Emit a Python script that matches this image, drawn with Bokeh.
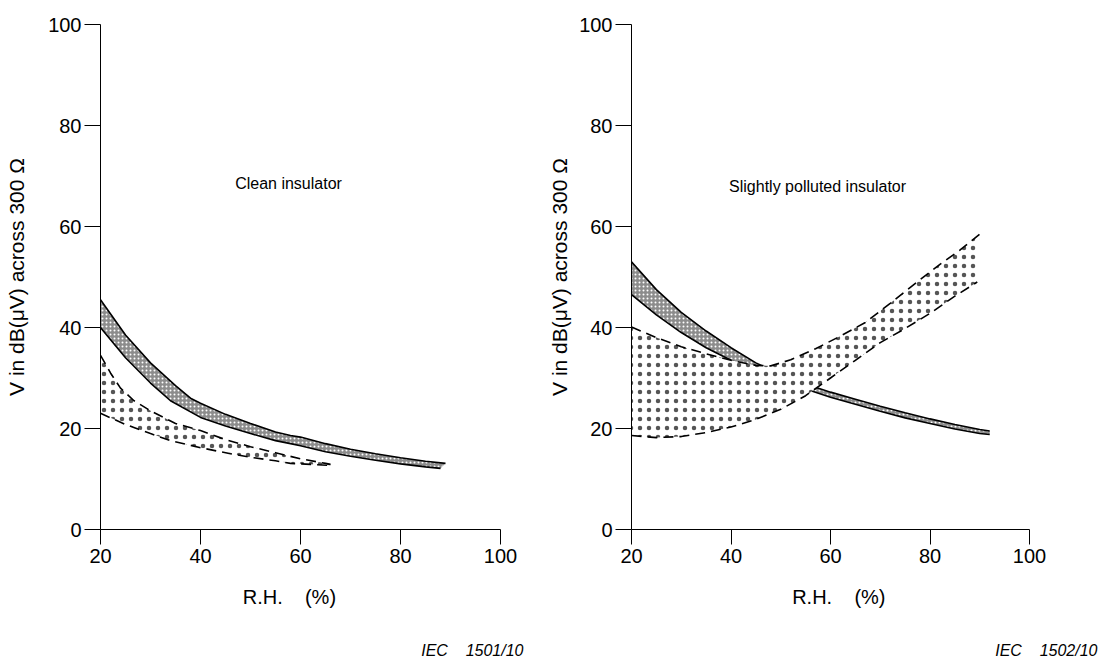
from bokeh.plotting import figure
from bokeh.models import Label, Range1d, FixedTicker, Title
from bokeh.layouts import row
from bokeh.embed import file_html
from bokeh.resources import INLINE

FONT = "Liberation Sans"
NB = "\u00a0"

x_ticks = [20, 40, 60, 80, 100]
y_ticks = [0, 20, 40, 60, 80, 100]
x_label_left = "R.H." + NB * 4 + "(%)" + NB * 4
x_label_right = NB * 3 + "R.H." + NB * 4 + "(%)"
y_label = "V in dB(\u03bcV) across 300 \u03a9"

# ---- Clean insulator ----
clean_title = "Clean insulator"
clean_band_up_x = [20, 25, 30, 35, 38, 40, 45, 50, 55, 58, 60, 65, 70, 75, 80, 85, 89]
clean_band_up_y = [45.5, 38.5, 33, 28.5, 26, 25, 22.8, 21, 19.3, 18.6, 18.3, 17, 15.9, 15, 14.2, 13.5, 13.1]
clean_band_lo_x = [20, 25, 30, 34, 40, 45, 50, 55, 58, 60, 65, 70, 75, 80, 85, 88]
clean_band_lo_y = [40, 34, 29, 25.5, 22.2, 20.5, 19, 17.6, 17, 16.6, 15.4, 14.5, 13.7, 13, 12.4, 12.1]
clean_dash_up_x = [20, 22, 24, 26.7, 30, 35, 40, 45, 50, 55, 60, 65, 66]
clean_dash_up_y = [34.5, 31, 28, 25.5, 23.5, 21, 19.6, 17.8, 16.4, 15.2, 14, 13.1, 12.9]
clean_dash_lo_x = [20, 25, 30, 34, 40, 46, 50, 55, 58, 62, 66]
clean_dash_lo_y = [23, 20.8, 19, 17.6, 16.2, 15, 14.3, 13.6, 13.1, 12.9, 12.7]
clean_iec = "IEC" + NB * 4 + "1501/10"

# ---- Slightly polluted insulator ----
poll_title = "Slightly polluted insulator"
poll_band_up_x = [20, 25, 30, 35, 40, 45, 50, 55, 60, 65, 70, 75, 80, 85, 90, 92]
poll_band_up_y = [53, 47.5, 43, 39.3, 36, 33, 30.7, 28.8, 27.2, 25.8, 24.4, 23.1, 21.9, 20.8, 19.8, 19.5]
poll_band_lo_x = [20, 25, 30, 35, 40, 45, 50, 55, 60, 65, 70, 75, 80, 85, 90, 92]
poll_band_lo_y = [46.5, 42.5, 39, 36, 33.5, 31.3, 29.5, 27.8, 26.2, 24.8, 23.4, 22.1, 21, 19.9, 19, 18.8]
poll_dash_up_x = [20, 25, 30, 35, 40, 45, 48, 52, 57, 62, 67, 72, 77, 82, 86, 90]
poll_dash_up_y = [40.1, 38, 36.2, 34.8, 33.5, 32.5, 32.4, 33.6, 35.8, 38.3, 41, 44.8, 48.7, 52.5, 55.3, 58.5]
poll_dash_lo_x = [20, 25, 30, 35, 40, 45, 50, 55, 60, 65, 70, 75, 80, 85, 89.5]
poll_dash_lo_y = [18.6, 18.2, 18.4, 19.2, 20.3, 21.8, 23.8, 26.5, 30, 33.5, 37, 39.8, 42.8, 46.2, 49]
poll_iec = "IEC" + NB * 4 + "1502/10"


def base_fig(width, mbl, mbr, mbt, mbb, label_standoff, xlab):
    p = figure(width=width, height=662, x_range=Range1d(20, 100), y_range=Range1d(0, 100),
               output_backend="svg", toolbar_location=None,
               min_border_left=mbl, min_border_right=mbr, min_border_top=mbt, min_border_bottom=mbb)
    p.outline_line_color = None
    p.grid.visible = False
    p.xaxis.ticker = FixedTicker(ticks=x_ticks)
    p.yaxis.ticker = FixedTicker(ticks=y_ticks)
    for ax in (p.xaxis[0], p.yaxis[0]):
        ax.axis_line_color = "black"
        ax.axis_line_width = 1
        ax.major_tick_line_color = "black"
        ax.major_tick_in = 0
        ax.minor_tick_line_color = None
        ax.major_label_text_font = FONT
        ax.major_label_text_font_size = "20px"
        ax.major_label_text_color = "black"
        ax.axis_label_text_font = FONT
        ax.axis_label_text_font_style = "normal"
        ax.axis_label_text_color = "black"
    p.xaxis.axis_label_text_font_size = "20px"
    p.yaxis.axis_label_text_font_size = "21px"
    p.xaxis.major_tick_out = 15
    p.yaxis.major_tick_out = 16
    p.xaxis.major_label_standoff = 4
    p.yaxis.major_label_standoff = 3
    p.xaxis.axis_label = xlab
    p.yaxis.axis_label = y_label
    p.xaxis.axis_label_standoff = 20
    p.yaxis.axis_label_standoff = label_standoff
    return p


def draw(p, bux, buy, blx, bly, dux, duy, dlx, dly, title, tx, ty, iec, ioff):
    # solid band
    p.patch(bux + blx[::-1], buy + bly[::-1], fill_color="#8c8c8c", line_color=None,
            hatch_pattern="dot", hatch_color="white", hatch_scale=4, hatch_weight=1.4)
    p.line(bux, buy, line_color="black", line_width=1.6)
    p.line(blx, bly, line_color="black", line_width=1.6)
    # dashed band
    p.patch(dux + dlx[::-1], duy + dly[::-1], fill_color="white", line_color=None,
            hatch_pattern="dot", hatch_color="#555555", hatch_scale=9, hatch_weight=1.0)
    p.line(dux, duy, line_color="black", line_width=1.6, line_dash="10 6")
    p.line(dlx, dly, line_color="black", line_width=1.6, line_dash="10 6")
    p.add_layout(Label(x=tx, y=ty, text=title, text_font=FONT, text_font_size="16px",
                       text_align="center", text_baseline="middle", text_color="black"))
    # spacer between axis label and IEC reference
    p.add_layout(Title(text=NB, standoff=0, text_font=FONT, text_font_size="24px",
                       text_color="white"), "below")
    p.add_layout(Title(text=iec, align="right", offset=ioff, standoff=0, text_font=FONT,
                       text_font_size="16px", text_font_style="italic", text_color="black"),
                 "below")


p1 = base_fig(545, 100, 45, 24, 133, 17, x_label_left)
draw(p1, clean_band_up_x, clean_band_up_y, clean_band_lo_x, clean_band_lo_y,
     clean_dash_up_x, clean_dash_up_y, clean_dash_lo_x, clean_dash_lo_y,
     clean_title, 57.6, 68.5, clean_iec, -23)

p2 = base_fig(556, 84, 72, 19, 132, 5, x_label_right)
draw(p2, poll_band_up_x, poll_band_up_y, poll_band_lo_x, poll_band_lo_y,
     poll_dash_up_x, poll_dash_up_y, poll_dash_lo_x, poll_dash_lo_y,
     poll_title, 57.4, 67.9, poll_iec, -68)

layout = row(p1, p2)
open("out.html", "w").write(file_html(layout, INLINE))
